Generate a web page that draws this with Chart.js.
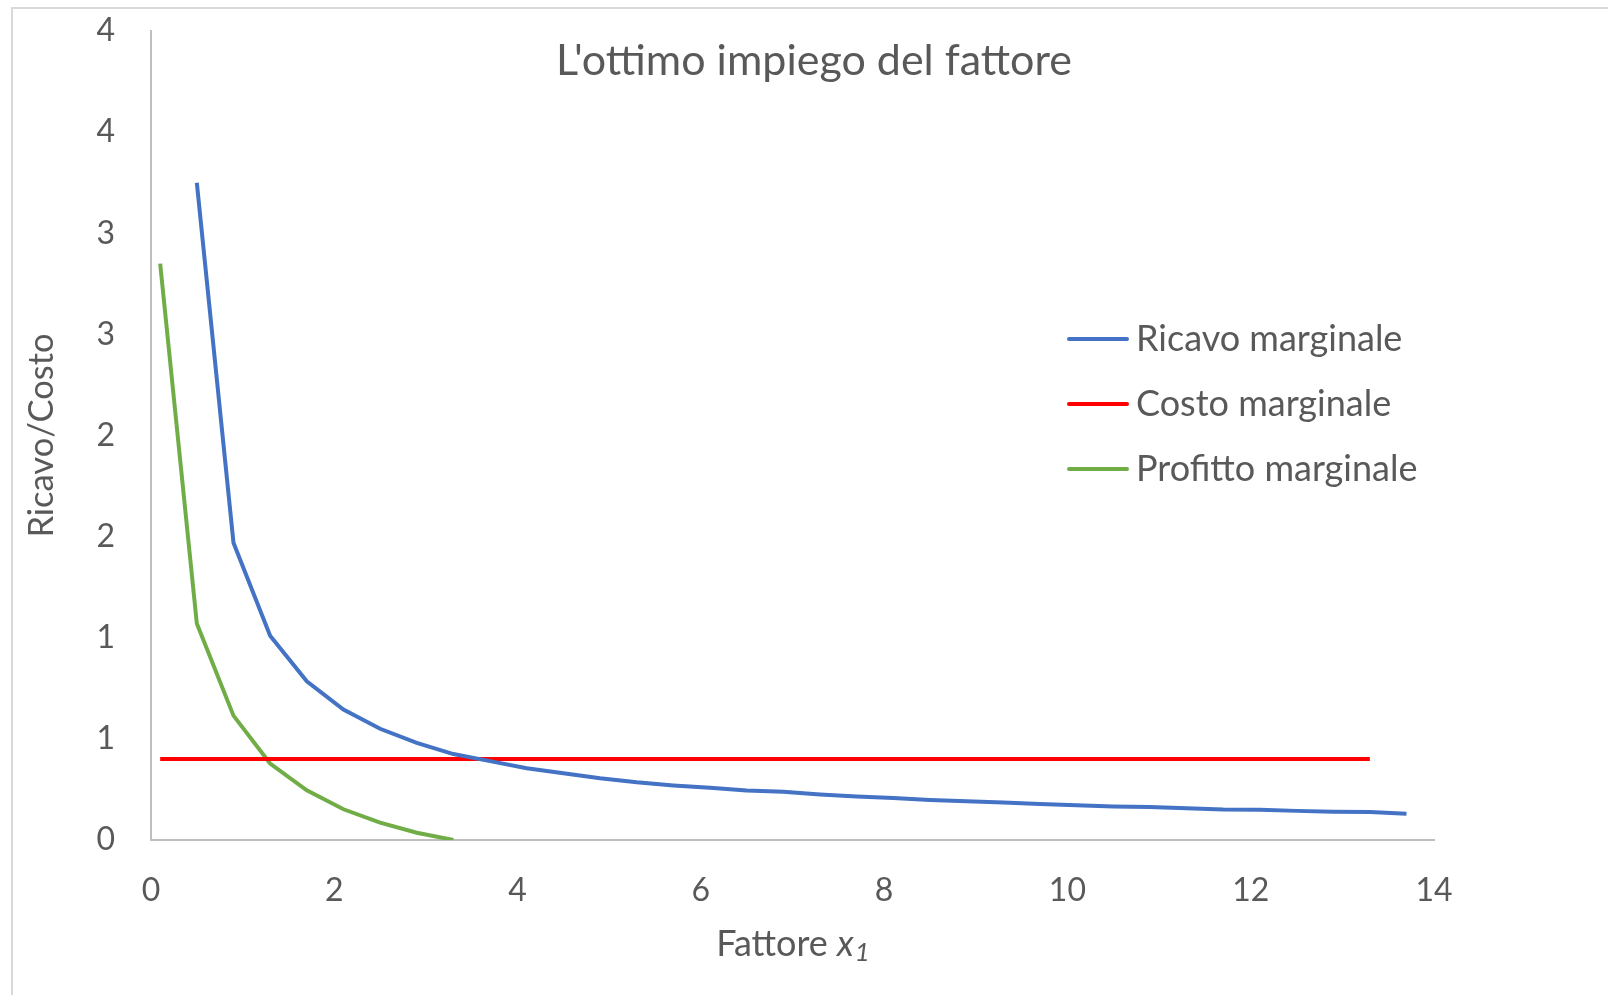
<!DOCTYPE html>
<html lang="it">
<head>
<meta charset="UTF-8">
<title>L'ottimo impiego del fattore</title>
<script src="https://cdn.jsdelivr.net/npm/chart.js@4.4.0/dist/chart.umd.min.js"></script>
<style>
    html, body { margin: 0; padding: 0; background: #fff; overflow: hidden; }
    .frame {
        position: absolute; left: 11px; top: 7px; right: -10px; bottom: -10px;
        border-left: 2px solid #d9d9d9; border-top: 2px solid #d9d9d9;
    }
    .wrap { position: absolute; left: 0; top: 0; width: 1608px; height: 995px; }
</style>
</head>
<body>
<div class="frame"></div>
<div class="wrap"><canvas id="chart"></canvas></div>
<script>
// x values of the series
const xRicavo = [0.5, 0.9, 1.3, 1.7, 2.1, 2.5, 2.9, 3.3, 3.7, 4.1, 4.5, 4.9, 5.3, 5.7, 6.1, 6.5, 6.9,
                 7.3, 7.7, 8.1, 8.5, 8.9, 9.3, 9.7, 10.1, 10.5, 10.9, 11.3, 11.7, 12.1, 12.5, 12.9, 13.3, 13.7];
const xCosto = [0.1, 0.5, 0.9, 1.3, 1.7, 2.1, 2.5, 2.9, 3.3, 3.7, 4.1, 4.5, 4.9, 5.3, 5.7, 6.1, 6.5,
                6.9, 7.3, 7.7, 8.1, 8.5, 8.9, 9.3, 9.7, 10.1, 10.5, 10.9, 11.3, 11.7, 12.1, 12.5, 12.9, 13.3];
const xProfitto = [0.1, 0.5, 0.9, 1.3, 1.7, 2.1, 2.5, 2.9, 3.3];

// y values
const ricavo = [3.25, 1.47, 1.01, 0.785, 0.645, 0.55, 0.48, 0.425, 0.39, 0.355, 0.33, 0.305, 0.285,
                0.27, 0.258, 0.245, 0.238, 0.225, 0.215, 0.208, 0.198, 0.192, 0.185, 0.178, 0.172,
                0.166, 0.163, 0.157, 0.151, 0.15, 0.144, 0.14, 0.138, 0.13];
const costo = [0.4, 0.4, 0.4, 0.4, 0.4, 0.4, 0.4, 0.4, 0.4, 0.4, 0.4, 0.4, 0.4, 0.4, 0.4, 0.4, 0.4,
               0.4, 0.4, 0.4, 0.4, 0.4, 0.4, 0.4, 0.4, 0.4, 0.4, 0.4, 0.4, 0.4, 0.4, 0.4, 0.4, 0.4];
const profitto = [2.85, 1.07, 0.615, 0.378, 0.246, 0.152, 0.086, 0.036, 0.0];

const seriesNames = ['Ricavo marginale', 'Costo marginale', 'Profitto marginale'];
const seriesColors = ['#4472C4', '#FF0000', '#70AD47'];

const textColor = '#595959';
const fontFamily = 'Lato, "Open Sans", sans-serif';

function pairs(xs, ys) {
    return xs.map((x, i) => ({ x: x, y: ys[i] }));
}

// title, legend and x-axis title are drawn by hand (they sit inside / under the plot like Excel)
const overlayText = {
    id: 'overlayText',
    afterDraw(chart) {
        const ctx = chart.ctx;
        const area = chart.chartArea;
        ctx.save();
        ctx.fillStyle = textColor;
        ctx.textBaseline = 'middle';
        ctx.textAlign = 'center';
        ctx.font = '43px ' + fontFamily;
        ctx.fillText("L'ottimo impiego del fattore", 814, 61);

        // legend
        ctx.font = '36px ' + fontFamily;
        ctx.textAlign = 'left';
        chart.data.datasets.forEach((ds, i) => {
            const y = 339 + i * 65;
            ctx.strokeStyle = ds.borderColor;
            ctx.lineWidth = 4;
            ctx.lineCap = 'round';
            ctx.beginPath();
            ctx.moveTo(1069, y);
            ctx.lineTo(1127, y);
            ctx.stroke();
            ctx.fillText(ds.label, 1136, y);
        });

        // x-axis title: "Fattore x1" with italic x and subscript 1
        const base = '36px ' + fontFamily;
        const ital = 'italic 36px ' + fontFamily;
        const sub = 'italic 26px ' + fontFamily;
        ctx.font = base; const w1 = ctx.measureText('Fattore ').width;
        ctx.font = ital; const w2 = ctx.measureText('x').width;
        ctx.font = sub; const w3 = ctx.measureText('1').width;
        let x = (area.left + area.right) / 2 - (w1 + w2 + w3) / 2;
        const y = 944;
        ctx.font = base; ctx.fillText('Fattore ', x, y); x += w1;
        ctx.font = ital; ctx.fillText('x', x, y); x += w2 + 1;
        ctx.font = sub; ctx.fillText('1', x, y + 9);
        ctx.restore();
    }
};

new Chart(document.getElementById('chart'), {
    type: 'scatter',
    data: {
        datasets: [
            { label: seriesNames[0], data: pairs(xRicavo, ricavo), borderColor: seriesColors[0] },
            { label: seriesNames[1], data: pairs(xCosto, costo), borderColor: seriesColors[1] },
            { label: seriesNames[2], data: pairs(xProfitto, profitto), borderColor: seriesColors[2] }
        ].map(d => Object.assign(d, {
            showLine: true, pointRadius: 0, borderWidth: 4, tension: 0, backgroundColor: d.borderColor
        }))
    },
    options: {
        responsive: true,
        maintainAspectRatio: false,
        animation: false,
        layout: { padding: { left: 0, top: 31, right: 174, bottom: 0 } },
        plugins: { legend: { display: false }, tooltip: { enabled: false } },
        scales: {
            x: {
                type: 'linear', min: 0, max: 14,
                grid: { display: false, drawTicks: false },
                border: { display: true, color: '#bfbfbf', width: 2 },
                ticks: { stepSize: 2, padding: 31, color: textColor, font: { family: fontFamily, size: 32 } },
                afterFit(scale) { scale.height = 155; }
            },
            y: {
                min: 0, max: 4,
                grid: { display: false, drawTicks: false },
                border: { display: true, color: '#bfbfbf', width: 2 },
                ticks: {
                    stepSize: 0.5, padding: 36, color: textColor, font: { family: fontFamily, size: 32 },
                    callback: v => Math.round(v)
                },
                title: {
                    display: true, text: 'Ricavo/Costo', color: textColor,
                    font: { family: fontFamily, size: 34.5 }, padding: { top: 21, bottom: 0 }
                },
                afterFit(scale) {
                    scale.width = 151;
                    // tick padding would otherwise push the plot top down
                    scale.paddingTop = 0;
                    scale.paddingBottom = 0;
                }
            }
        }
    },
    plugins: [overlayText]
});
</script>
</body>
</html>
